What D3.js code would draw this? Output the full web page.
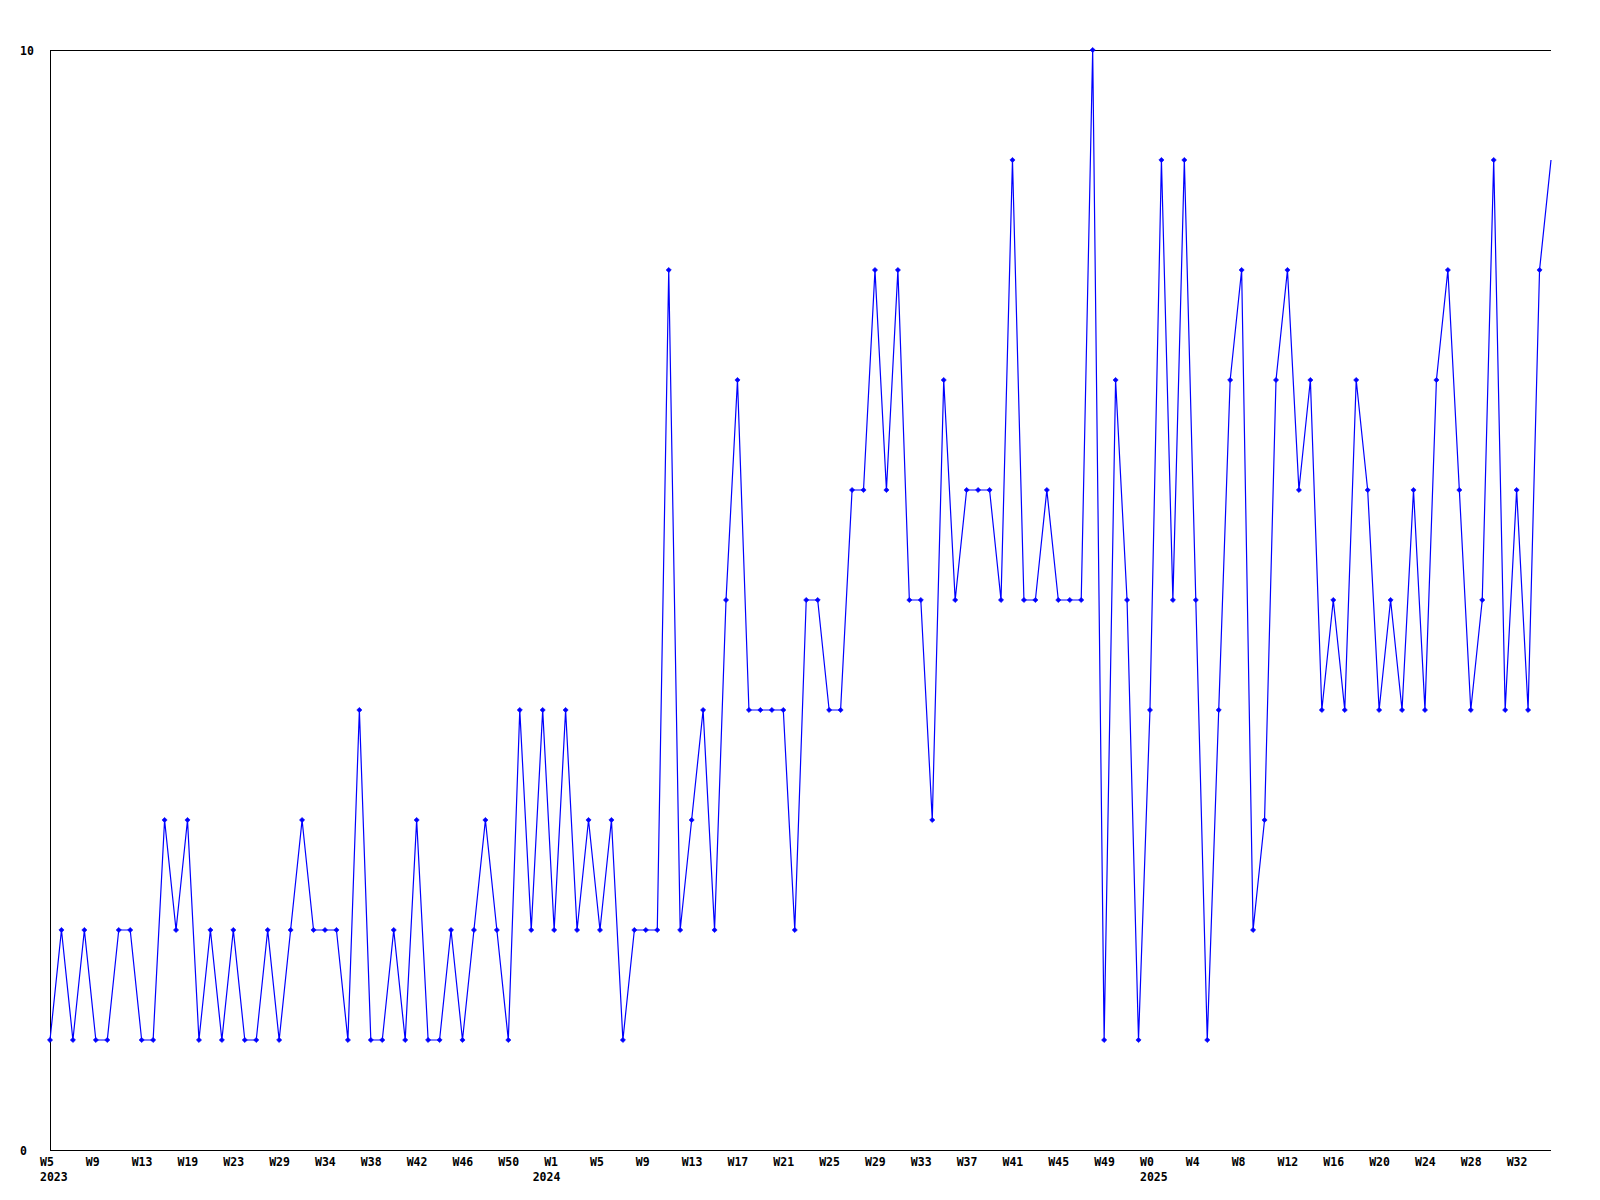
<!DOCTYPE html>
<html>
<head>
<meta charset="utf-8">
<script src="https://cdn.jsdelivr.net/npm/d3@7"></script>
<style>
  html, body { margin: 0; padding: 0; background: #fff; }
  svg { display: block; }
  text { font-family: "DejaVu Sans Mono", "Liberation Mono", monospace; font-weight: bold; font-size: 11.5px; fill: #000; }
</style>
</head>
<body>
<svg id="chart" width="1600" height="1200"></svg>
<script>
// ---- data ----
const values = [
  1,2,1,2,1,1,2,2,1,1,3,2,3,1,2,1,2,1,1,2,1,2,3,2,2,2,1,4,1,1,2,1,3,1,1,2,1,2,3,2,1,4,2,4,2,4,2,
  3,2,3,1,2,2,2,8,2,3,4,2,5,7,4,4,4,4,2,5,5,4,4,6,6,8,6,8,5,5,3,7,5,6,6,6,5,9,5,5,6,5,
  5,5,10,1,7,5,1,4,9,5,9,5,1,4,7,8,2,3,7,8,6,7,4,5,4,7,6,4,5,4,6,4,7,8,6,4,5,9,4,6,4,8,9
];
const weekTickLabels = [
  "W5","W9","W13","W19","W23","W29","W34","W38","W42","W46","W50",
  "W1","W5","W9","W13","W17","W21","W25","W29","W33","W37","W41","W45","W49",
  "W0","W4","W8","W12","W16","W20","W24","W28","W32"
];
const tickEvery = 4;
const yearLabels = ["2023", "2024", "2025"];
const yearIndex = [0, 43, 96];
const yTicks = [0, 10];

// ---- layout ----
const plotLeft = 50, plotRight = 1551, plotTop = 50, plotBottom = 1150;
const svg = d3.select("#chart");
svg.append("rect").attr("width", 1600).attr("height", 1200).attr("fill", "#fff");

const x = d3.scaleLinear().domain([0, values.length - 1]).range([plotLeft, plotRight]);
const y = d3.scaleLinear().domain([0, 10]).range([plotBottom, plotTop]);

svg.append("clipPath").attr("id", "markerClip")
  .append("rect").attr("x", 0).attr("y", 0).attr("width", plotRight - 4).attr("height", 1200);

// frame lines
const frame = svg.append("g").attr("stroke", "#000").attr("stroke-width", 1).attr("shape-rendering", "crispEdges");
frame.append("line").attr("x1", plotLeft + 0.5).attr("x2", plotLeft + 0.5).attr("y1", plotTop).attr("y2", plotBottom);
frame.append("line").attr("x1", plotLeft).attr("x2", plotRight).attr("y1", plotBottom + 0.5).attr("y2", plotBottom + 0.5);
frame.append("line").attr("x1", plotLeft).attr("x2", plotRight).attr("y1", plotTop + 0.5).attr("y2", plotTop + 0.5);

// y labels
svg.append("g").selectAll("text").data(yTicks).join("text")
  .attr("x", 20).attr("y", d => y(d) + 4.5)
  .text(d => d);

// x week labels
svg.append("g").selectAll("text").data(weekTickLabels).join("text")
  .attr("x", (d, i) => x(i * tickEvery) - 10)
  .attr("y", 1166)
  .text(d => d);

// year labels
svg.append("g").selectAll("text").data(yearLabels).join("text")
  .attr("x", (d, i) => x(yearIndex[i]) - 10)
  .attr("y", 1181)
  .text(d => d);

// line
const line = d3.line().x((d, i) => x(i)).y(d => y(d));
svg.append("path").datum(values)
  .attr("d", line)
  .attr("fill", "none")
  .attr("stroke", "#0000ff")
  .attr("stroke-width", 1.2);

// markers
svg.append("g").attr("clip-path", "url(#markerClip)")
  .selectAll("path").data(values).join("path")
  .attr("d", (d, i) => {
    const cx = x(i), cy = y(d), r = 2.6;
    return `M${cx - r},${cy} L${cx},${cy - r} L${cx + r},${cy} L${cx},${cy + r} Z`;
  })
  .attr("fill", "#0000ff")
  .attr("stroke", "#0000ff")
  .attr("stroke-width", 0.6);
</script>
</body>
</html>
